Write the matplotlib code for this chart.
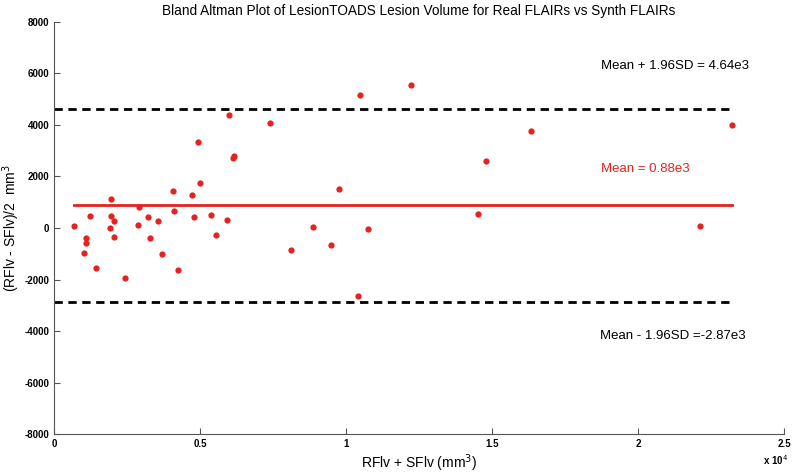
import matplotlib
matplotlib.use("Agg")
import matplotlib.pyplot as plt
import numpy as np

plt.rcParams["axes.unicode_minus"] = False

# Data: x = RFlv + SFlv, y = (RFlv - SFlv)/2
sum_vol = [685, 1096, 1086, 1038, 1243, 1449, 1942, 1952, 2055, 1908, 2055, 2421,
           2921, 2877, 3209, 3288, 3562, 3709, 4086, 4120, 4247, 4716, 4805, 5000,
           5366, 5548, 5914, 4921, 5983, 6120, 6175, 7397, 8106, 8870, 9476, 9760,
           10401, 10479, 10753, 12216, 14510, 14805, 16336, 22134, 23219]
diff_vol = [78, -388, -571, -959, 454, -1542, 1114, 454, 283, -12, -338, -1930,
            827, 117, 427, -377, 260, -1010, 1449, 660, -1631, 1293, 439, 1759,
            493, -272, 322, 3328, 4388, 2718, 2796, 4078, -843, 39, -660, 1503,
            -2641, 5177, -50, 5553, 532, 2614, 3767, 78, 3988]
mean_diff = 880
upper_loa = 4640
lower_loa = -2870
yticks = [-8000, -6000, -4000, -2000, 0, 2000, 4000, 6000, 8000]
xticks = [0, 5000, 10000, 15000, 20000, 25000]
xticklabels = ["0", "0.5", "1", "1.5", "2", "2.5"]

red = "#e3231f"
fig = plt.figure(figsize=(8, 4.75), dpi=100)
ax = fig.add_axes([0.0675, 0.0863, 0.9125, 0.8674])

xmax = max(sum_vol)
xmin = min(sum_vol)
ax.plot([0, xmax], [upper_loa, upper_loa], color="black", lw=2, ls=(0, (3, 2)))
ax.plot([0, xmax], [lower_loa, lower_loa], color="black", lw=2, ls=(0, (3, 2)))
ax.plot([xmin, xmax], [mean_diff, mean_diff], color=red, lw=2)
ax.plot(sum_vol, diff_vol, "o", color=red, ms=4.5, mec="none")

ax.set_xlim(0, 25000)
ax.set_ylim(-8000, 8000)
ax.set_xticks(xticks)
ax.set_xticklabels(xticklabels)
ax.set_yticks(yticks)
for s in ["top", "right"]:
    ax.spines[s].set_visible(False)
for s in ["left", "bottom"]:
    ax.spines[s].set_color("#555555")
    ax.spines[s].set_linewidth(0.8)
ax.tick_params(direction="in", length=4, colors="#555555", labelcolor="black",
               labelsize=7)
for lab in ax.get_xticklabels() + ax.get_yticklabels():
    lab.set_fontweight("bold")
    lab.set_family("Liberation Sans")

fs = 9.5
ax.text(21267, 6291, "Mean + 1.96SD = 4.64e3", ha="center", va="center",
        fontsize=fs, family="Liberation Sans")
ax.text(20240, 2291, "Mean = 0.88e3", ha="center", va="center",
        fontsize=fs, color=red, family="Liberation Sans")
ax.text(21200, -4194, "Mean - 1.96SD =-2.87e3", ha="center", va="center",
        fontsize=fs, family="Liberation Sans")

ax.set_title("Bland Altman Plot of LesionTOADS Lesion Volume for Real FLAIRs vs Synth FLAIRs",
             fontsize=9.8, family="Liberation Sans", pad=5)
ax.set_xlabel("RFlv + SFlv (mm$^3$)", fontsize=10, family="Liberation Sans")
ax.set_ylabel("(RFlv - SFlv)/2  mm$^3$", fontsize=10, family="Liberation Sans")
ax.xaxis.label.set_va("center")
ax.yaxis.label.set_va("center")
ax.xaxis.set_label_coords(0.5, -0.072)
ax.yaxis.set_label_coords(-0.058, 0.5)
fig.text(0.969, 0.022, r"x 10$^4$", fontsize=7, fontweight="bold",
         family="Liberation Sans", ha="center")

fig.savefig("out.png", dpi=100, facecolor="white")
